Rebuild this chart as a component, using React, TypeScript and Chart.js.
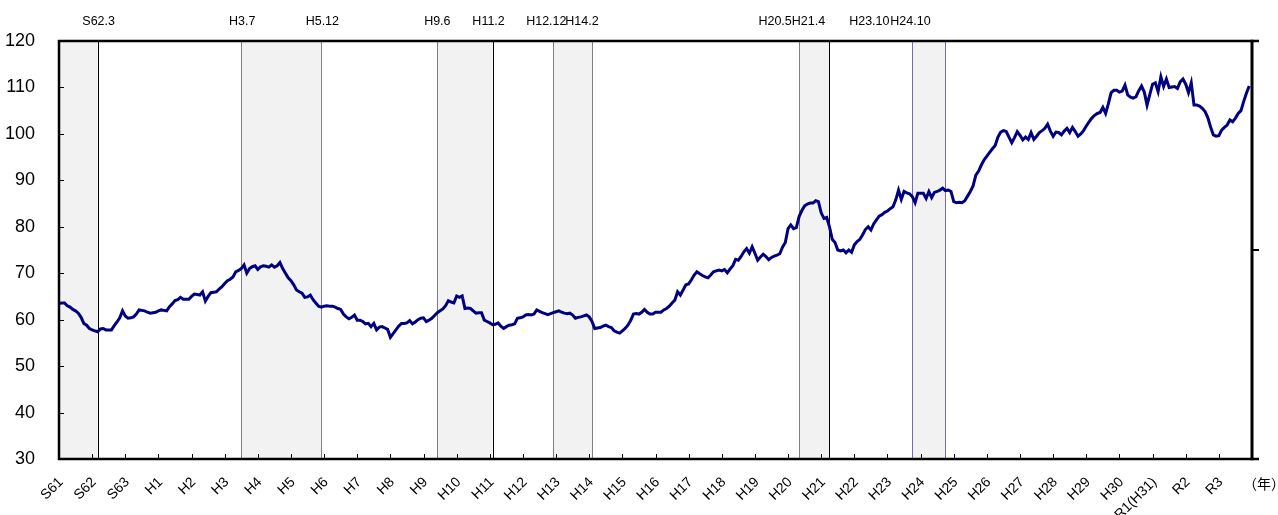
import React, { useEffect, useRef } from 'react';
import { Chart, registerables } from 'chart.js';

Chart.register(...registerables);

// ---------- data ----------
const yearLabels = [
  'S61', 'S62', 'S63', 'H1', 'H2', 'H3', 'H4', 'H5', 'H6', 'H7', 'H8', 'H9',
  'H10', 'H11', 'H12', 'H13', 'H14', 'H15', 'H16', 'H17', 'H18', 'H19', 'H20', 'H21',
  'H22', 'H23', 'H24', 'H25', 'H26', 'H27', 'H28', 'H29', 'H30', 'R1(H31)', 'R2', 'R3',
];
const yearUnitLabel = '（年）';

// monthly index values, Jan 1986 – Dec 2021
const values1986to1993 = [
  63.5, 63.6, 63.6, 63.0, 62.7, 62.2, 61.9, 61.4, 60.5, 59.2, 58.8, 58.1,
  57.8, 57.6, 57.4, 58.0, 58.1, 57.8, 57.8, 57.8, 58.7, 59.5, 60.4, 61.9,
  60.8, 60.3, 60.4, 60.6, 61.2, 62.1, 62.0, 61.9, 61.6, 61.4, 61.5, 61.6,
  61.9, 62.1, 62.0, 61.9, 62.8, 63.4, 64.1, 64.3, 64.8, 64.4, 64.4, 64.4,
  65.0, 65.5, 65.4, 65.3, 66.0, 64.0, 65.0, 65.8, 65.9, 66.0, 66.6, 67.1,
  67.8, 68.4, 68.7, 69.2, 70.3, 70.6, 71.0, 71.8, 70.0, 71.0, 71.4, 71.6,
  70.8, 71.4, 71.6, 71.5, 71.3, 71.8, 71.3, 71.6, 72.3, 71.0, 70.0, 69.0,
  68.4, 67.5, 66.4, 66.0, 65.7, 64.8, 64.9, 65.3, 64.3, 63.6, 62.9, 62.7,
];
const values1994to2001 = [
  62.9, 63.0, 62.9, 62.9, 62.7, 62.4, 62.2, 61.2, 60.6, 60.2, 60.5, 61.0,
  59.9, 59.9, 59.6, 59.1, 59.2, 58.5, 59.2, 57.8, 58.4, 58.5, 58.2, 57.9,
  56.2, 57.0, 57.8, 58.6, 59.2, 59.2, 59.3, 59.8, 59.1, 59.5, 60.0, 60.3,
  60.4, 59.6, 59.9, 60.3, 60.9, 61.5, 61.9, 62.3, 63.0, 64.1, 63.8, 63.6,
  65.1, 64.8, 65.1, 62.4, 62.5, 62.4, 61.9, 61.4, 61.5, 61.5, 59.9, 59.6,
  59.3, 58.9, 59.0, 59.3, 58.6, 58.1, 58.5, 58.8, 58.9, 59.1, 60.3, 60.4,
  60.6, 61.0, 61.1, 61.0, 61.2, 62.1, 61.8, 61.5, 61.3, 61.1, 61.3, 61.5,
  61.7, 61.9, 61.6, 61.4, 61.3, 61.4, 61.0, 60.3, 60.5, 60.6, 60.8, 61.0,
];
const values2002to2009 = [
  60.6, 59.6, 58.1, 58.2, 58.3, 58.6, 58.8, 58.5, 58.3, 57.6, 57.3, 57.1,
  57.6, 58.1, 58.8, 59.8, 61.2, 61.3, 61.2, 61.6, 62.2, 61.6, 61.2, 61.2,
  61.6, 61.6, 61.6, 62.1, 62.4, 62.9, 63.6, 64.2, 66.0, 65.3, 66.4, 67.5,
  67.7, 68.6, 69.6, 70.3, 69.9, 69.5, 69.2, 69.0, 69.6, 70.3, 70.5, 70.7,
  70.5, 70.8, 70.1, 70.9, 71.6, 73.0, 72.8, 73.6, 74.6, 75.3, 74.3, 75.7,
  74.3, 72.8, 73.5, 74.1, 73.6, 72.9, 73.4, 73.7, 73.9, 74.2, 75.6, 76.6,
  79.6, 80.4, 79.6, 79.8, 82.2, 83.5, 84.5, 84.9, 85.1, 85.1, 85.6, 85.4,
  83.0, 81.8, 82.0, 80.0, 77.3, 76.6, 75.0, 74.8, 75.0, 74.4, 75.0, 74.5,
];
const values2010to2015 = [
  76.1, 76.8, 77.3, 78.3, 79.4, 80.0, 79.3, 80.6, 81.5, 82.3, 82.6, 83.1,
  83.4, 83.9, 84.3, 85.8, 87.9, 85.9, 87.6, 87.3, 87.1, 86.5, 85.2, 87.2,
  87.2, 87.2, 86.1, 87.6, 86.3, 87.4, 87.6, 87.9, 88.3, 87.8, 87.9, 87.6,
  85.4, 85.2, 85.3, 85.2, 85.6, 86.6, 87.6, 88.8, 91.1, 92.0, 93.3, 94.4,
  95.2, 96.0, 96.8, 97.5, 99.3, 100.4, 100.7, 100.5, 99.3, 98.1, 99.2, 100.5,
  99.7, 98.7, 99.3, 98.8, 100.3, 98.8, 99.5, 100.3, 100.7, 101.2, 102.1, 100.6,
];
const values2016to2021 = [
  99.5, 100.4, 100.3, 99.8, 100.6, 101.2, 100.3, 101.4, 100.5, 99.5, 100.0, 100.7,
  101.7, 102.6, 103.4, 104.0, 104.4, 104.6, 105.7, 104.4, 106.5, 108.9, 109.4, 109.4,
  109.0, 109.2, 110.5, 108.4, 107.9, 107.7, 108.0, 109.3, 110.3, 109.0, 106.2, 108.5,
  110.7, 111.0, 109.1, 112.3, 110.2, 111.8, 110.0, 110.1, 110.2, 109.8, 111.2, 111.8,
  110.7, 108.9, 111.0, 106.2, 106.2, 106.0, 105.5, 104.8, 103.5, 101.5, 99.8, 99.5,
  99.6, 100.8, 101.4, 101.9, 103.0, 102.6, 103.4, 104.4, 105.0, 107.0, 108.8, 110.3,
];
const indexValues = [
  ...values1986to1993,
  ...values1994to2001,
  ...values2002to2009,
  ...values2010to2015,
  ...values2016to2021,
];

// recession periods (year-month)
const bandStarts = ['1986-01', '1991-07', '1997-06', '2000-12', '2008-05', '2011-10'];
const bandEnds = ['1987-03', '1993-12', '1999-02', '2002-02', '2009-04', '2012-10'];
const bandStartLabels = ['', 'H3.7', 'H9.6', 'H12.12', 'H20.5', 'H23.10'];
const bandEndLabels = ['S62.3', 'H5.12', 'H11.2', 'H14.2', 'H21.4', 'H24.10'];

// ---------- styling ----------
const FONT = "'Liberation Sans', Arial, sans-serif";
const BLACK_MARKERS = ['S62.3', 'H11.2', 'H21.4'];
const PURPLE_MARKERS = ['H23.10', 'H24.10'];
const MARKER_LABEL_SHIFT: Record<string, number> = {
  'S62.3': 1, 'H3.7': 1, 'H5.12': 1, 'H11.2': -4, 'H12.12': -7, 'H14.2': -10,
  'H20.5': -24, 'H21.4': -21, 'H23.10': -43, 'H24.10': -35,
};

function monthIndex(s: string): number {
  const [yy, mm] = s.split('-').map(Number);
  return (yy - 1986) * 12 + (mm - 1);
}

function markerColor(label: string): string {
  if (BLACK_MARKERS.includes(label)) return '#000000';
  if (PURPLE_MARKERS.includes(label)) return '#7a68b0';
  return '#808080';
}

const overlayPlugin = {
  id: 'recessionOverlay',
  beforeDatasetsDraw(chart: any) {
    const { ctx, chartArea: a } = chart;
    const xs = chart.scales.x;
    ctx.save();
    for (let i = 0; i < bandStarts.length; i++) {
      const x0 = xs.getPixelForValue(monthIndex(bandStarts[i]));
      const x1 = xs.getPixelForValue(monthIndex(bandEnds[i]));
      ctx.fillStyle = '#f2f2f2';
      ctx.fillRect(x0, a.top, x1 - x0, a.bottom - a.top);
    }
    ctx.lineWidth = 1;
    for (let i = 0; i < bandStarts.length; i++) {
      const pairs: [string, string][] = [
        [bandStarts[i], bandStartLabels[i]],
        [bandEnds[i], bandEndLabels[i]],
      ];
      for (const [d, lab] of pairs) {
        if (!lab) continue;
        const px = Math.round(xs.getPixelForValue(monthIndex(d))) + 0.5;
        ctx.strokeStyle = markerColor(lab);
        ctx.beginPath();
        ctx.moveTo(px, a.top);
        ctx.lineTo(px, a.bottom);
        ctx.stroke();
      }
    }
    ctx.restore();
  },
  afterDraw(chart: any) {
    const { ctx, chartArea: a } = chart;
    const xs = chart.scales.x;
    const ys = chart.scales.y;
    ctx.save();
    // inward ticks
    ctx.strokeStyle = '#000';
    ctx.lineWidth = 1;
    ctx.beginPath();
    for (let v = 40; v < 120; v += 10) {
      const py = Math.round(ys.getPixelForValue(v)) + 0.5;
      ctx.moveTo(a.left, py);
      ctx.lineTo(a.left + 5, py);
    }
    for (let m = 12; m < yearLabels.length * 12; m += 12) {
      const px = Math.round(xs.getPixelForValue(m)) + 0.5;
      ctx.moveTo(px, a.bottom);
      ctx.lineTo(px, a.bottom - 5);
    }
    ctx.stroke();
    // right axis middle tick (outward)
    ctx.lineWidth = 2;
    ctx.beginPath();
    const pm = ys.getPixelForValue(75);
    ctx.moveTo(a.right, pm);
    ctx.lineTo(a.right + 7, pm);
    ctx.stroke();
    // frame
    ctx.lineWidth = 2.5;
    ctx.beginPath();
    ctx.moveTo(a.left, a.top);
    ctx.lineTo(a.right + 7, a.top);
    ctx.moveTo(a.left, a.bottom);
    ctx.lineTo(a.right + 7, a.bottom);
    ctx.moveTo(a.left, a.top - 1.25);
    ctx.lineTo(a.left, a.bottom + 1.25);
    ctx.stroke();
    ctx.lineWidth = 3;
    ctx.beginPath();
    ctx.moveTo(a.right, a.top - 1.25);
    ctx.lineTo(a.right, a.bottom + 1.25);
    ctx.stroke();
    // marker labels above chart
    ctx.fillStyle = '#000';
    ctx.font = `12.5px ${FONT}`;
    ctx.textAlign = 'center';
    ctx.textBaseline = 'alphabetic';
    const allMarkers: [string, string][] = [];
    for (let i = 0; i < bandStarts.length; i++) {
      allMarkers.push([bandStarts[i], bandStartLabels[i]]);
      allMarkers.push([bandEnds[i], bandEndLabels[i]]);
    }
    for (const [d, lab] of allMarkers) {
      if (!lab) continue;
      const px = xs.getPixelForValue(monthIndex(d)) + (MARKER_LABEL_SHIFT[lab] || 0);
      ctx.fillText(lab, px, 25);
    }
    // unit label
    ctx.font = `14px 'Noto Sans CJK JP', sans-serif`;
    ctx.textAlign = 'left';
    ctx.textBaseline = 'middle';
    ctx.fillText(yearUnitLabel, a.right - 9, 484);
    ctx.restore();
  },
};

export default function App() {
  const canvasRef = useRef<HTMLCanvasElement | null>(null);

  useEffect(() => {
    document.body.style.margin = '0';
    document.body.style.overflow = 'hidden';
    const canvas = canvasRef.current;
    if (!canvas) return;
    const chart = new Chart(canvas, {
      type: 'line',
      data: {
        datasets: [
          {
            data: indexValues.map((v, i) => ({ x: i, y: v })),
            borderColor: '#000080',
            borderWidth: 3,
            pointRadius: 0,
            tension: 0,
            fill: false,
          },
        ],
      },
      options: {
        responsive: false,
        animation: false,
        layout: { padding: { top: 41, right: 26, left: 0, bottom: 0 } },
        plugins: { legend: { display: false }, tooltip: { enabled: false } },
        scales: {
          x: {
            type: 'linear',
            min: 0,
            max: yearLabels.length * 12,
            grid: { display: false, drawTicks: false },
            border: { display: false },
            afterFit: (s: any) => {
              s.height = 56;
              s.paddingLeft = 0;
              s.paddingRight = 0;
            },
            ticks: {
              stepSize: 12,
              maxTicksLimit: 100,
              autoSkip: false,
              maxRotation: 45,
              minRotation: 45,
              padding: 15,
              labelOffset: 2,
              color: '#000',
              font: { size: 14, family: FONT },
              callback: (v: any) => {
                const k = Math.round(Number(v) / 12);
                return yearLabels[k] ?? '';
              },
            },
          },
          y: {
            min: 30,
            max: 120,
            grid: { display: false, drawTicks: false },
            border: { display: false },
            afterFit: (s: any) => {
              s.width = 59;
              s.paddingTop = 0;
              s.paddingBottom = 0;
            },
            ticks: {
              stepSize: 10,
              padding: 24,
              color: '#000',
              font: { size: 18, family: FONT },
            },
          },
        },
      },
      plugins: [overlayPlugin],
    } as any);
    return () => chart.destroy();
  }, []);

  return (
    <canvas
      ref={canvasRef}
      width={1278}
      height={515}
      style={{ display: 'block', width: 1278, height: 515 }}
    />
  );
}
